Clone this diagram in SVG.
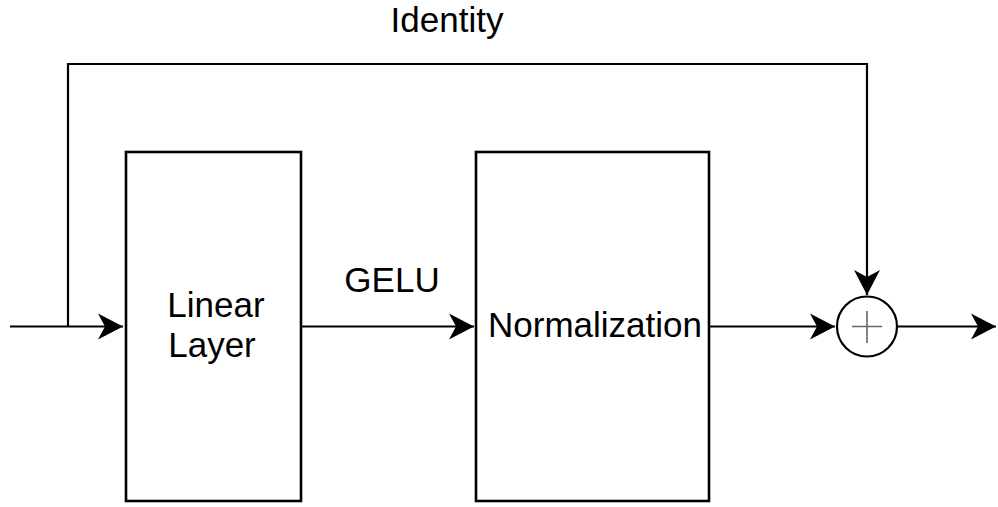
<svg xmlns="http://www.w3.org/2000/svg" width="998" height="507" viewBox="0 0 998 507">
<defs>
<marker id="arr" markerUnits="userSpaceOnUse" markerWidth="26" markerHeight="28" refX="25" refY="14" orient="auto">
<path d="M0,1 L25,14 L0,27 L7,14 Z" fill="#000"/>
</marker>
<style>
.box{fill:#fff;stroke:#000;stroke-width:2.6}
.ln{fill:none;stroke:#000;stroke-width:2.2}
.t{font-family:"Liberation Sans",Arial,sans-serif;font-size:35px;fill:#000;text-anchor:middle}
</style>
</defs>
<rect width="998" height="507" fill="#fff"/>
<g id="connectors">
<path class="ln" d="M10,326.5 L123,326.5" marker-end="url(#arr)"/>
<path class="ln" d="M68,326.5 L68,64 L867,64 L867,295" marker-end="url(#arr)"/>
<path class="ln" d="M301,326.5 L474,326.5" marker-end="url(#arr)"/>
<path class="ln" d="M709,326.5 L835,326.5" marker-end="url(#arr)"/>
<path class="ln" d="M897,326.5 L996,326.5" marker-end="url(#arr)"/>
<text class="t" x="447" y="32" font-size="31">Identity</text>
<text class="t" x="392" y="292" font-size="33">GELU</text>
</g>
<g id="linear">
<rect class="box" x="126" y="152" width="175" height="349"/>
<text class="t" x="216" y="317">Linear</text>
<text class="t" x="212" y="357">Layer</text>
</g>
<g id="norm">
<rect class="box" x="476" y="152" width="233" height="349"/>
<text class="t" x="595" y="337">Normalization</text>
</g>
<g id="plus">
<circle cx="867" cy="326.5" r="30" fill="#fff" stroke="#000" stroke-width="2.2"/>
<path d="M852,326.5 H882 M867,311 V343" stroke="#666" stroke-width="1.6" fill="none"/>
</g>
</svg>
